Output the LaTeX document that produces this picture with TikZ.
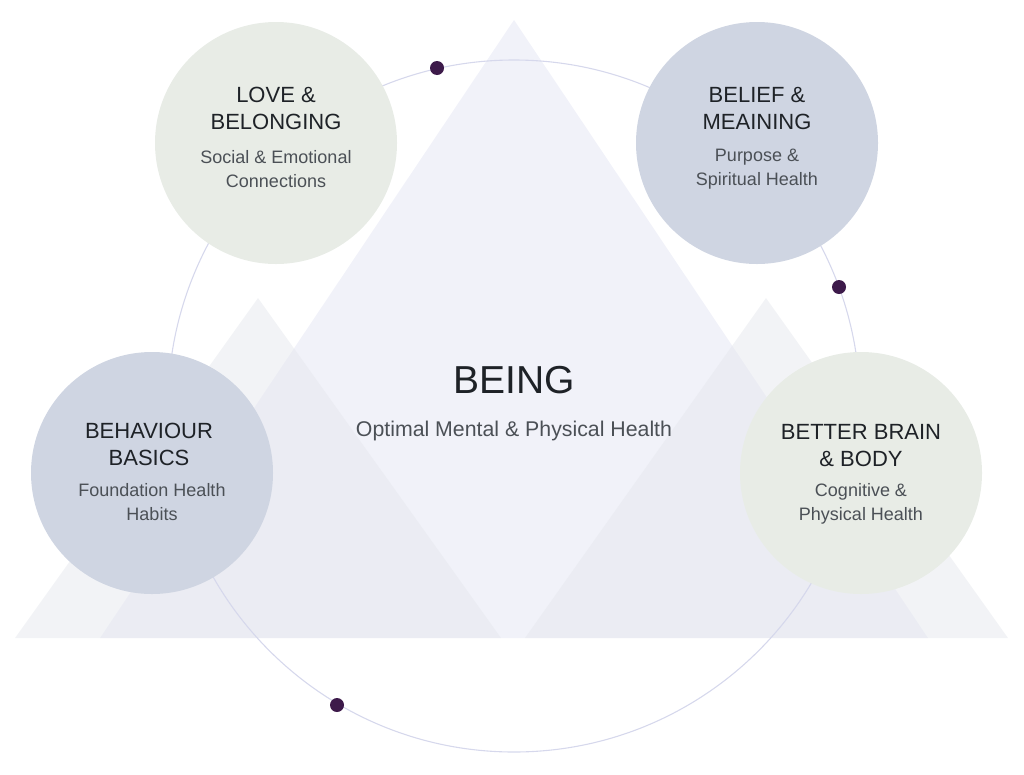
\documentclass[tikz,border=0pt]{standalone}
\usepackage{fontspec}
\setmainfont{Liberation Sans}
\usetikzlibrary{positioning}
\definecolor{peakfill}{HTML}{F1F2F9}
\definecolor{hillfill}{HTML}{E6E8EE}
\definecolor{sage}{HTML}{E8ECE6}
\definecolor{slate}{HTML}{CFD5E2}
\definecolor{ring}{HTML}{D6D8EC}
\definecolor{plum}{HTML}{3D1A4A}
\definecolor{ink}{HTML}{1E2227}
\definecolor{greytext}{HTML}{4B5056}

\begin{document}
\begin{tikzpicture}[x=1pt, y=-1pt,
	bubble/.style={circle, minimum size=242pt, inner sep=0pt},
	title/.style={align=center, text=ink, font=\fontsize{22}{27}\selectfont},
	sub/.style={align=center, text=greytext, font=\fontsize{18}{24}\selectfont},
	dot/.style={circle, fill=plum, minimum size=14pt, inner sep=0pt}]
\useasboundingbox (0,0) rectangle (1024,774);
%mountains
	\fill[peakfill] (100,638)--(514,20)--(928,638)--cycle;
	\fill[hillfill, opacity=0.5] (15,638)--(258,298)--(501,638)--cycle;
	\fill[hillfill, opacity=0.5] (525,638)--(766,298)--(1008,638)--cycle;
	
	%ring
	\coordinate (centre) at (514,406);
	\draw[ring, line width=1.1pt] (centre) circle (346);
	\node[dot] (d1) at (437,68) {};
	\node[dot] (d2) at (839,287) {};
	\node[dot] (d3) at (337,705) {};
	
	%four bubbles
	\node[bubble, fill=sage] (love) at (276,143) {};
	\node[bubble, fill=slate] (belief) at (757,143) {};
	\node[bubble, fill=slate] (behaviour) at (152,473) {};
	\node[bubble, fill=sage] (better) at (861,473) {};
	
	%texts
	\node[title] (love-t) at (276,108) {LOVE \&\\BELONGING};
	\node[sub] (love-s) at (276,169) {Social \& Emotional\\Connections};
	\node[title] (belief-t) at (757,108) {BELIEF \&\\MEAINING};
	\node[sub] (belief-s) at (757,169) {Purpose \&\\Spiritual Health};
	\node[title] (behaviour-t) at (149,444) {BEHAVIOUR\\BASICS};
	\node[sub] (behaviour-s) at (152,502) {Foundation Health\\Habits};
	\node[title] (better-t) at (861,446) {BETTER BRAIN\\\& BODY};
	\node[sub] (better-s) at (861,504) {Cognitive \&\\Physical Health};
	\node[text=ink, font=\fontsize{39}{39}\selectfont] (being) at (514,380) {BEING};
	\node[text=greytext, font=\fontsize{21.3}{21.3}\selectfont] (being-s) at (514,431) {Optimal Mental \& Physical Health};
\end{tikzpicture}
\end{document}
